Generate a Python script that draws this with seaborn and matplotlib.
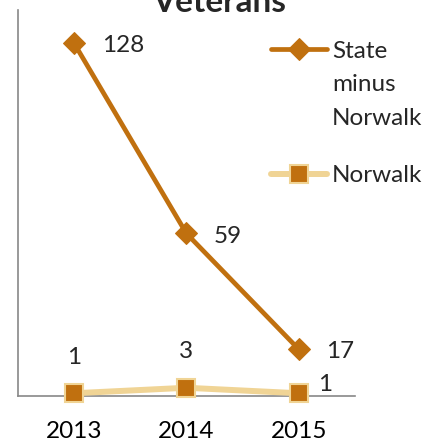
import pandas as pd
import matplotlib.pyplot as plt
import seaborn as sns

# --- Data ---
years = ["2013", "2014", "2015"]
state_minus_norwalk = [128, 59, 17]
norwalk = [1, 3, 1]

df = pd.DataFrame({
    "Year": years * 2,
    "Count": state_minus_norwalk + norwalk,
    "Series": ["State\nminus\nNorwalk"] * 3 + ["Norwalk"] * 3,
})

sns.set_theme(style="white")
plt.rcParams["font.family"] = ["Lato", "DejaVu Sans"]

dark = "#C0700F"
light = "#F0D495"
fs = 17.5

fig = plt.figure(figsize=(4.38, 4.41), dpi=100)
ax = fig.add_axes([0.041, 0.102, 0.769, 0.875])

state_df = df[df["Series"] != "Norwalk"]
nor_df = df[df["Series"] == "Norwalk"]

sns.lineplot(data=state_df, x="Year", y="Count", ax=ax, color=dark, linewidth=3.4,
             marker="D", markersize=11, markeredgecolor=dark, label="State\nminus\nNorwalk",
             zorder=3)
sns.lineplot(data=nor_df, x="Year", y="Count", ax=ax, color=light, linewidth=4.3,
             marker="s", markersize=13.5, markerfacecolor=dark, markeredgecolor=light,
             markeredgewidth=1.5, label="Norwalk", zorder=3)
for line in ax.lines:
    line.set_clip_on(False)

ax.set_xlim(-0.5, 2.5)
ax.set_ylim(0, 140)
ax.set_xlabel("")
ax.set_ylabel("")
ax.set_yticks([])
ax.tick_params(axis="x", length=0, labelsize=fs, pad=18, colors="black")
for s in ["top", "right"]:
    ax.spines[s].set_visible(False)
for s in ["left", "bottom"]:
    ax.spines[s].set_color("#888888")
    ax.spines[s].set_linewidth(1.2)
    ax.spines[s].set_zorder(1)

# data labels
for i, v in enumerate(state_minus_norwalk):
    ax.annotate(str(v), (i, v), xytext=(20, -2), textcoords="offset points",
                va="center", ha="left", fontsize=fs)
for i, v in enumerate(norwalk):
    if i < 2:
        ax.annotate(str(v), (i, v), xytext=(0, 26), textcoords="offset points",
                    va="center", ha="center", fontsize=fs)
    else:
        ax.annotate(str(v), (i, v), xytext=(14, 6), textcoords="offset points",
                    va="center", ha="left", fontsize=fs)

leg = ax.legend(loc="upper left", bbox_to_anchor=(0.619, 0.908), bbox_transform=fig.transFigure,
                frameon=False, fontsize=fs, handlelength=2.3, handletextpad=0.2,
                labelspacing=1.48, borderpad=0, borderaxespad=0)
for t in leg.get_texts():
    t.set_linespacing(1.76)
# put each handle beside the first line of its label
for col in leg._legend_handle_box.get_children():
    for row in col.get_children():
        row.align = "top"

fig.text(0.5, 0.973, "Veterans", ha="center", va="baseline", fontsize=24, fontweight="bold")

fig.savefig("out.png", dpi=100)
